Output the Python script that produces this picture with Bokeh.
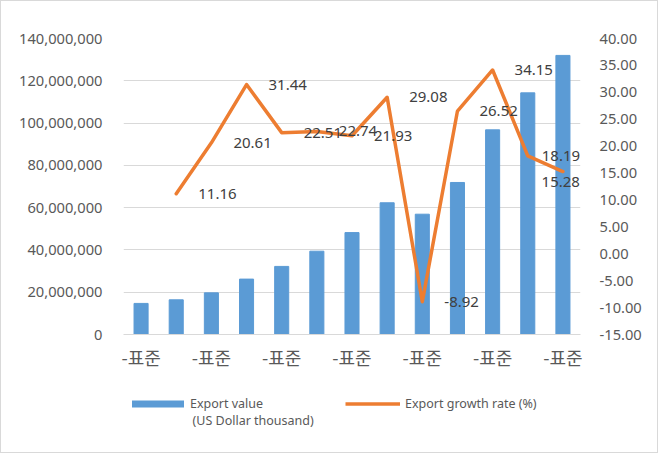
from bokeh.plotting import figure
from bokeh.layouts import column
from bokeh.models import (Range1d, LinearAxis, FixedTicker, NumeralTickFormatter,
                          ColumnDataSource, LabelSet, Legend, LegendItem, Label)
from bokeh.core.properties import value
from bokeh.embed import file_html
from bokeh.resources import INLINE

# ---- data ----
positions = list(range(1, 14))
export_value = [14.7e6, 16.4e6, 19.7e6, 26.2e6, 32.2e6, 39.4e6, 48.2e6,
                62.3e6, 56.9e6, 71.9e6, 96.8e6, 114.3e6, 132.0e6]
growth_positions = list(range(2, 14))
growth_rate = [11.16, 20.61, 31.44, 22.51, 22.74, 21.93, 29.08,
               -8.92, 26.52, 34.15, 18.19, 15.28]
growth_labels = ["11.16", "20.61", "31.44", "22.51", "22.74", "21.93", "29.08",
                 "-8.92", "26.52", "34.15", "18.19", "15.28"]
x_tick_positions = [1, 3, 5, 7, 9, 11, 13]
x_tick_labels = ["-표준"] * 7
left_ticks = [0, 20e6, 40e6, 60e6, 80e6, 100e6, 120e6, 140e6]
right_ticks = [-15, -10, -5, 0, 5, 10, 15, 20, 25, 30, 35, 40]
series_names = ["Export value", "(US Dollar thousand)", "Export growth rate (%)"]

FONT = "Noto Sans"
TXT = "#595959"
LBL = "#404040"
BLUE = "#5B9BD5"
ORANGE = "#ED7D31"
GRID = "#D9D9D9"

# ---------------- main chart ----------------
p = figure(width=656, height=380, output_backend="svg", toolbar_location=None,
           x_range=Range1d(0.5, 13.5), y_range=Range1d(0, 140e6),
           min_border_left=122, min_border_right=77, min_border_top=37,
           min_border_bottom=47)
p.outline_line_color = None
p.background_fill_color = "white"
p.border_fill_color = "white"
p.extra_y_ranges = {"pct": Range1d(-15, 40)}

bars = p.vbar(x=positions, top=export_value, width=0.4, color=BLUE)
line = p.line(growth_positions, growth_rate, y_range_name="pct", color=ORANGE,
              line_width=3.5, line_join="round", line_cap="round")

src = ColumnDataSource(dict(x=growth_positions[:-2], y=growth_rate[:-2],
                            t=growth_labels[:-2]))
labels = LabelSet(x="x", y="y", text="t", source=src, y_range_name="pct",
                  x_offset=22, text_baseline="middle", text_align="left",
                  text_font=value(FONT), text_font_size="15px", text_color=LBL)
p.add_layout(labels)
# the last two labels would run past the plot frame (and be clipped): keep them inside
lab12 = Label(x=growth_positions[-2], y=growth_rate[-2], y_range_name="pct",
              text=growth_labels[-2], x_offset=14, text_baseline="middle",
              text_align="left", text_font=FONT, text_font_size="15px",
              text_color=LBL)
lab13 = Label(x=growth_positions[-1], y=growth_rate[-1], y_range_name="pct",
              text=growth_labels[-1], x_offset=17, y_offset=-5, text_baseline="top",
              text_align="right", text_font=FONT, text_font_size="15px",
              text_color=LBL)
p.add_layout(lab12)
p.add_layout(lab13)

p.xaxis.ticker = FixedTicker(ticks=x_tick_positions)
p.xaxis.major_label_overrides = dict(zip(x_tick_positions, x_tick_labels))
p.xaxis.major_label_text_font = "Noto Sans CJK KR"
p.xaxis.major_label_text_font_size = "18px"
p.xaxis.major_label_text_color = TXT
p.xaxis.axis_line_color = GRID
p.xaxis.major_tick_line_color = None
p.xaxis.minor_tick_line_color = None
p.xaxis.major_label_standoff = 3
p.xgrid.grid_line_color = None

p.yaxis.ticker = FixedTicker(ticks=left_ticks)
p.yaxis.formatter = NumeralTickFormatter(format="0,0")
p.yaxis.axis_line_color = None
p.yaxis.major_tick_line_color = None
p.yaxis.minor_tick_line_color = None
p.yaxis.major_label_text_font = FONT
p.yaxis.major_label_text_font_size = "14.7px"
p.yaxis.major_label_text_color = TXT
p.yaxis.major_label_standoff = 15
p.ygrid.grid_line_color = GRID
p.ygrid.ticker = FixedTicker(ticks=left_ticks)

ra = LinearAxis(y_range_name="pct", ticker=FixedTicker(ticks=right_ticks),
                formatter=NumeralTickFormatter(format="0.00"))
ra.axis_line_color = None
ra.major_tick_line_color = None
ra.minor_tick_line_color = None
ra.major_label_text_font = FONT
ra.major_label_text_font_size = "14.7px"
ra.major_label_text_color = TXT
ra.major_label_standoff = 13
p.add_layout(ra, "right")

# ---------------- legend strip (its frame is aligned with the chart's frame) ----------------
lp = figure(width=656, height=71, output_backend="svg", toolbar_location=None,
            x_range=Range1d(0, 1), y_range=Range1d(0, 1), min_border=0,
            x_axis_type=None, y_axis_type=None)
lp.outline_line_color = None
lp.grid.visible = False
lp.background_fill_color = "white"
lp.border_fill_color = "white"
# legend carriers, placed well outside the visible ranges
lbar = lp.vbar(x=[-5], top=[-5], bottom=[-6], width=0.4,
               fill_color=BLUE, line_color=None)
lline = lp.line(x=[-6, -5], y=[-5, -5], color=ORANGE, line_width=3.5)

common = dict(orientation="horizontal", padding=0, margin=0,
              border_line_color=None, background_fill_alpha=0,
              label_text_font=FONT, label_text_font_size="12.5px",
              label_text_color=TXT, label_height=18)
leg1 = Legend(items=[LegendItem(label=series_names[0], renderers=[lbar])],
              location=(2, 40), glyph_width=65, glyph_height=9, label_standoff=0,
              **common)
leg2 = Legend(items=[LegendItem(label=series_names[2], renderers=[lline])],
              location=(222, 40), glyph_width=55, glyph_height=7, label_standoff=5,
              **common)
lp.add_layout(leg1)
lp.add_layout(leg2)
sub = Label(x=69, y=32, x_units="screen", y_units="screen", text=series_names[1],
            text_baseline="middle", text_font=FONT, text_font_size="12.5px",
            text_color=TXT)
lp.add_layout(sub)

layout = column(p, lp, spacing=0)
layout.styles = {"border": "1px solid #D9D9D9"}

open("out.html", "w").write(file_html(layout, INLINE))
